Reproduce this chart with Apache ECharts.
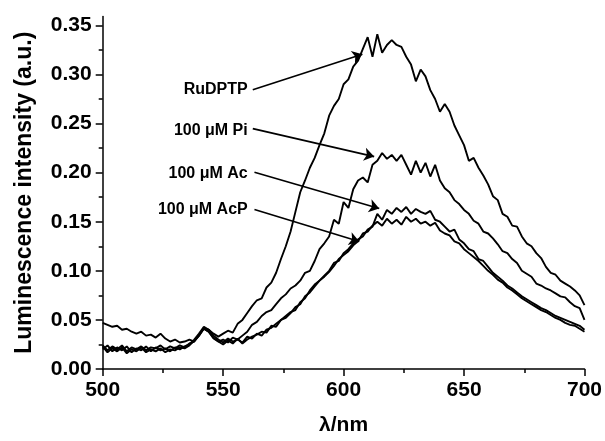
<!DOCTYPE html>
<html><head><meta charset="utf-8">
<script src="https://cdn.jsdelivr.net/npm/echarts@6/dist/echarts.min.js"></script>
<style>html,body{margin:0;padding:0;background:#fff}#c{width:605px;height:441px}</style>
</head><body><div id="c"></div>
<script>
// wavelengths 500..700 nm, step 2
var wavelengths = [];
for (var w = 500; w <= 700; w += 2) wavelengths.push(w);

var ruDPTP = [.047,.045,.043,.044,.040,.041,.038,.036,.038,.034,.035,.032,.036,.031,.028,.030,.027,.028,.030,.028,
.034,.042,.040,.036,.033,.036,.039,.037,.046,.050,.057,.064,.070,.072,.083,.088,.098,.112,.125,.140,
.160,.180,.192,.205,.215,.228,.240,.258,.268,.275,.290,.295,.308,.314,.326,.338,.318,.341,.322,.330,
.335,.330,.328,.318,.310,.293,.305,.298,.284,.275,.262,.270,.262,.248,.238,.228,.212,.215,.205,.197,
.188,.176,.172,.158,.155,.146,.145,.135,.128,.125,.118,.113,.104,.098,.096,.090,.087,.084,.080,.075,.065];

var pi100 = [.024,.019,.023,.020,.024,.018,.022,.020,.023,.019,.022,.021,.024,.020,.023,.021,.024,.022,.026,.028,
.035,.041,.038,.031,.028,.030,.027,.032,.030,.034,.038,.045,.048,.054,.058,.060,.066,.072,.076,.082,
.085,.090,.098,.100,.110,.122,.128,.135,.152,.148,.170,.164,.183,.192,.195,.190,.208,.212,.220,.214,
.218,.212,.218,.208,.198,.212,.200,.210,.196,.208,.192,.184,.180,.172,.168,.162,.158,.151,.148,.140,
.138,.133,.127,.120,.118,.112,.108,.100,.097,.094,.087,.085,.082,.080,.077,.074,.073,.068,.064,.062,.050];

var ac100 = [.020,.024,.018,.022,.019,.023,.017,.021,.019,.023,.018,.022,.019,.021,.018,.022,.020,.023,.025,.030,
.036,.043,.040,.034,.030,.027,.031,.028,.030,.027,.033,.031,.036,.034,.040,.042,.046,.050,.054,.058,
.060,.068,.072,.080,.086,.090,.095,.100,.108,.110,.118,.122,.128,.132,.135,.142,.145,.158,.152,.162,
.158,.164,.160,.165,.158,.163,.160,.158,.161,.152,.150,.145,.140,.142,.132,.128,.122,.120,.112,.110,
.104,.098,.094,.090,.085,.082,.078,.074,.071,.068,.065,.062,.060,.057,.054,.052,.050,.048,.046,.044,.040];

var acP100 = [.023,.017,.021,.018,.022,.016,.020,.018,.022,.017,.020,.018,.021,.017,.020,.019,.022,.021,.024,.029,
.034,.041,.038,.032,.028,.025,.029,.026,.031,.026,.030,.033,.035,.038,.037,.044,.043,.050,.052,.057,
.063,.066,.074,.078,.084,.090,.094,.099,.105,.112,.116,.120,.126,.130,.138,.140,.146,.150,.146,.153,
.148,.152,.147,.155,.150,.153,.148,.150,.146,.149,.141,.138,.136,.130,.128,.122,.118,.114,.110,.105,
.100,.096,.091,.088,.083,.080,.076,.072,.069,.066,.063,.060,.058,.055,.052,.050,.047,.045,.044,.041,.038];

var yTicks = [0, 0.05, 0.10, 0.15, 0.20, 0.25, 0.30, 0.35];
var yMinorTicks = [0.025, 0.075, 0.125, 0.175, 0.225, 0.275, 0.325];
var yMax = 0.359;

var labels = ['RuDPTP', '100 μM Pi', '100 μM Ac', '100 μM AcP'];
var labelPos = [[560.2, 0.2845], [560.2, 0.2432], [560.2, 0.1995], [560.2, 0.1620]];
var arrowFrom = [[562.3, 0.2844], [562.3, 0.2448], [563.0, 0.2004], [563.0, 0.1624]];
var arrowTo = [[607.8, 0.3205], [612.7, 0.2163], [614.8, 0.1634], [606.5, 0.1298]];

function pairs(ys) { return wavelengths.map(function (x, i) { return [x, ys[i]]; }); }

var FONT = '"Liberation Sans", Arial, sans-serif';
var lineStyle = { color: '#000', width: 1.9 };

var series = [ruDPTP, pi100, ac100, acP100].map(function (d, i) {
  return { type: 'line', data: pairs(d), showSymbol: false, symbol: 'none', lineStyle: lineStyle, silent: true, z: 3 };
});
series[0].markLine = {
  silent: true, symbol: ['none', 'arrow'], symbolSize: 10, animation: false,
  lineStyle: { color: '#000', width: 1.7, type: 'solid' }, label: { show: false },
  data: arrowFrom.map(function (f, i) { return [{ coord: f }, { coord: arrowTo[i] }]; })
};
series[0].markPoint = {
  silent: true, symbol: 'circle', symbolSize: 0, animation: false,
  label: { show: true, position: 'left', distance: 0, color: '#000', fontFamily: FONT, fontWeight: 'bold', fontSize: 16,
    formatter: function (p) { return p.name; } },
  data: labels.map(function (t, i) { return { name: t, coord: labelPos[i] }; })
};

var chart = echarts.init(document.getElementById('c'));
chart.setOption({
  animation: false,
  backgroundColor: '#fff',
  grid: { left: 102.7, right: 19, top: 16.5, bottom: 68.3, containLabel: false },
  xAxis: {
    type: 'value', min: 500, max: 700, interval: 50,
    name: 'λ/nm', nameLocation: 'middle', nameGap: 46,
    nameTextStyle: { color: '#000', fontFamily: FONT, fontWeight: 'bold', fontSize: 21 },
    axisLine: { show: true, lineStyle: { color: '#000', width: 1.5 } },
    axisTick: { show: true, inside: false, length: 7, lineStyle: { color: '#000', width: 1.5 } },
    minorTick: { show: true, splitNumber: 2, length: 4, lineStyle: { color: '#000', width: 1.5 } },
    axisLabel: { color: '#000', fontFamily: FONT, fontWeight: 'bold', fontSize: 21, margin: 11 },
    splitLine: { show: false }
  },
  yAxis: [{
    type: 'value', min: 0, max: yMax,
    name: 'Luminescence intensity (a.u.)', nameLocation: 'middle', nameGap: 67,
    nameTextStyle: { color: '#000', fontFamily: FONT, fontWeight: 'bold', fontSize: 23 },
    axisLine: { show: true, lineStyle: { color: '#000', width: 1.5 } },
    axisTick: { show: true, inside: false, length: 7, customValues: yTicks, lineStyle: { color: '#000', width: 1.5 } },
    axisLabel: { color: '#000', fontFamily: FONT, fontWeight: 'bold', fontSize: 21, margin: 11, customValues: yTicks,
      formatter: function (v) { return v.toFixed(2); } },
    splitLine: { show: false }
  }, {
    type: 'value', min: 0, max: yMax, position: 'left',
    axisLine: { show: false },
    axisTick: { show: true, inside: false, length: 4, customValues: yMinorTicks, lineStyle: { color: '#000', width: 1.5 } },
    axisLabel: { show: false },
    splitLine: { show: false }
  }],
  series: series
});
</script></body></html>
